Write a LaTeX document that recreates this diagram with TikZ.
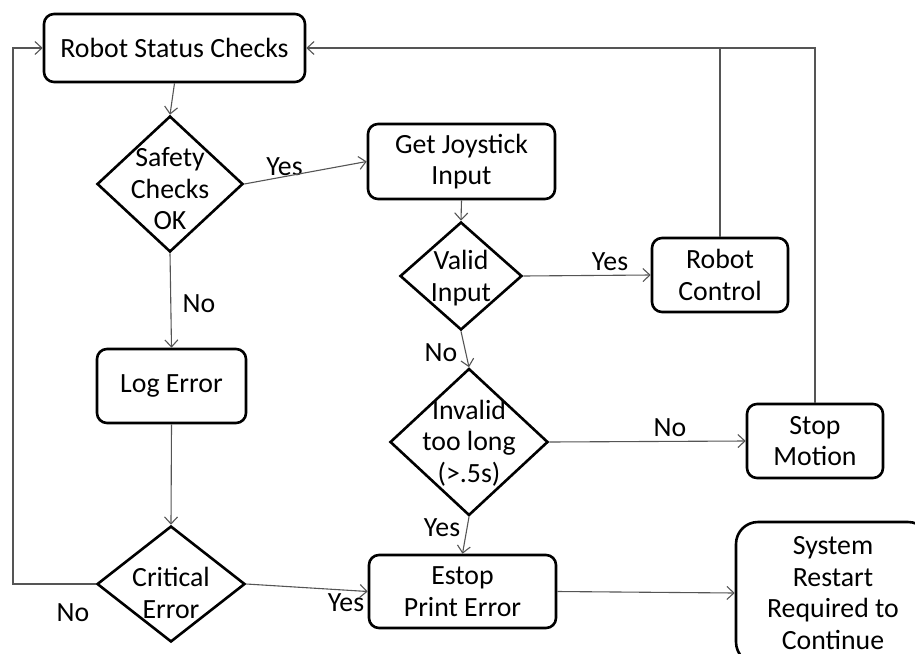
\documentclass[tikz,border=0pt]{standalone}
\usepackage{fontspec}
\setmainfont{Carlito}
\usetikzlibrary{positioning,shapes.geometric,arrows.meta,calc}
\definecolor{wire}{RGB}{85,85,85}

\begin{document}
\begin{tikzpicture}[x=1pt,y=-1pt,
    font=\fontsize{27.8}{31.5}\selectfont,
    box/.style={draw,line width=2.6pt,rounded corners=10pt,align=center,inner sep=0pt},
    decide/.style={draw,line width=2.6pt,diamond,inner sep=0pt},
    arr/.style={wire,line width=1.1pt,-{Straight Barb[length=7pt,width=13pt,line width=1.1pt]}},
    plain/.style={wire,line width=1.1pt}]
    \useasboundingbox (0,0) rectangle (915,653);
    \clip (0,0) rectangle (915,653);
    % process boxes
    \node[box,minimum width=261pt,minimum height=68pt] (status) at (174.5,48) {Robot Status Checks};
    \node[box,minimum width=187pt,minimum height=75pt] (joy) at (461.5,161.5) {Get Joystick\\Input};
    \node[box,minimum width=136pt,minimum height=74pt] (ctrl) at (720,275) {Robot\\Control};
    \node[box,minimum width=136pt,minimum height=74pt] (stop) at (815,441) {Stop\\Motion};
    \node[box,minimum width=149pt,minimum height=74pt] (log) at (171.5,386) {Log Error};
    \node[box,minimum width=187pt,minimum height=73pt] (estop) at (462.5,591.5) {Estop\\Print Error};
    \node[box,minimum width=194pt,minimum height=142pt,rounded corners=22pt] (restart) at (833,593) {System\\Restart\\Required to\\Continue};
    % decisions (text set on top of the diamond)
    \node[decide,minimum width=146pt,minimum height=136pt] (safe) at (170,184) {};
    \node[align=center] (safe-txt) at (170,189) {Safety\\Checks\\OK};
    \node[decide,minimum width=122pt,minimum height=108pt] (valid) at (461,276) {};
    \node[align=center] (valid-txt) at (461,278) {Valid\\Input};
    \node[decide,minimum width=158pt,minimum height=147pt] (invalid) at (469,442) {};
    \node[align=center] (invalid-txt) at (469,443) {Invalid\\too long\\(>.5s)};
    \node[decide,minimum width=148pt,minimum height=116pt] (crit) at (171,584) {};
    \node[align=center] (crit-txt) at (171,593) {Critical\\Error};
    % branch labels
    \node (yes1) at (284.5,167) {Yes};
    \node (yes2) at (610,262) {Yes};
    \node (no1) at (199,304) {No};
    \node (no2) at (441,353) {No};
    \node (no3) at (670,428) {No};
    \node (yes3) at (442,528) {Yes};
    \node (no4) at (73,613) {No};
    \node (yes4) at (346,603) {Yes};
    \coordinate (back) at (13,0);
    % connectors
    \draw[arr] (status.south) -- (safe.north);
    \draw[arr] (safe.east) -- (joy.west);
    \draw[arr] (joy.south) -- (valid.north);
    \draw[arr] (valid.east) -- (ctrl.west);
    \draw[arr] (ctrl.north) |- (status.east);
    \draw[plain] (stop.north) |- (ctrl.north |- status.east);
    \draw[arr] (valid.south) -- (invalid.north);
    \draw[arr] (invalid.east) -- (stop.west);
    \draw[arr] (invalid.south) -- (estop.north);
    \draw[arr] (estop.east) -- (restart.west);
    \draw[arr] (safe.south) -- (log.north);
    \draw[arr] (log.south) -- (crit.north);
    \draw[arr] (crit.west) -- (crit.west -| back) |- (status.west);
    \draw[arr] (crit.east) -- (estop.west);
\end{tikzpicture}
\end{document}
